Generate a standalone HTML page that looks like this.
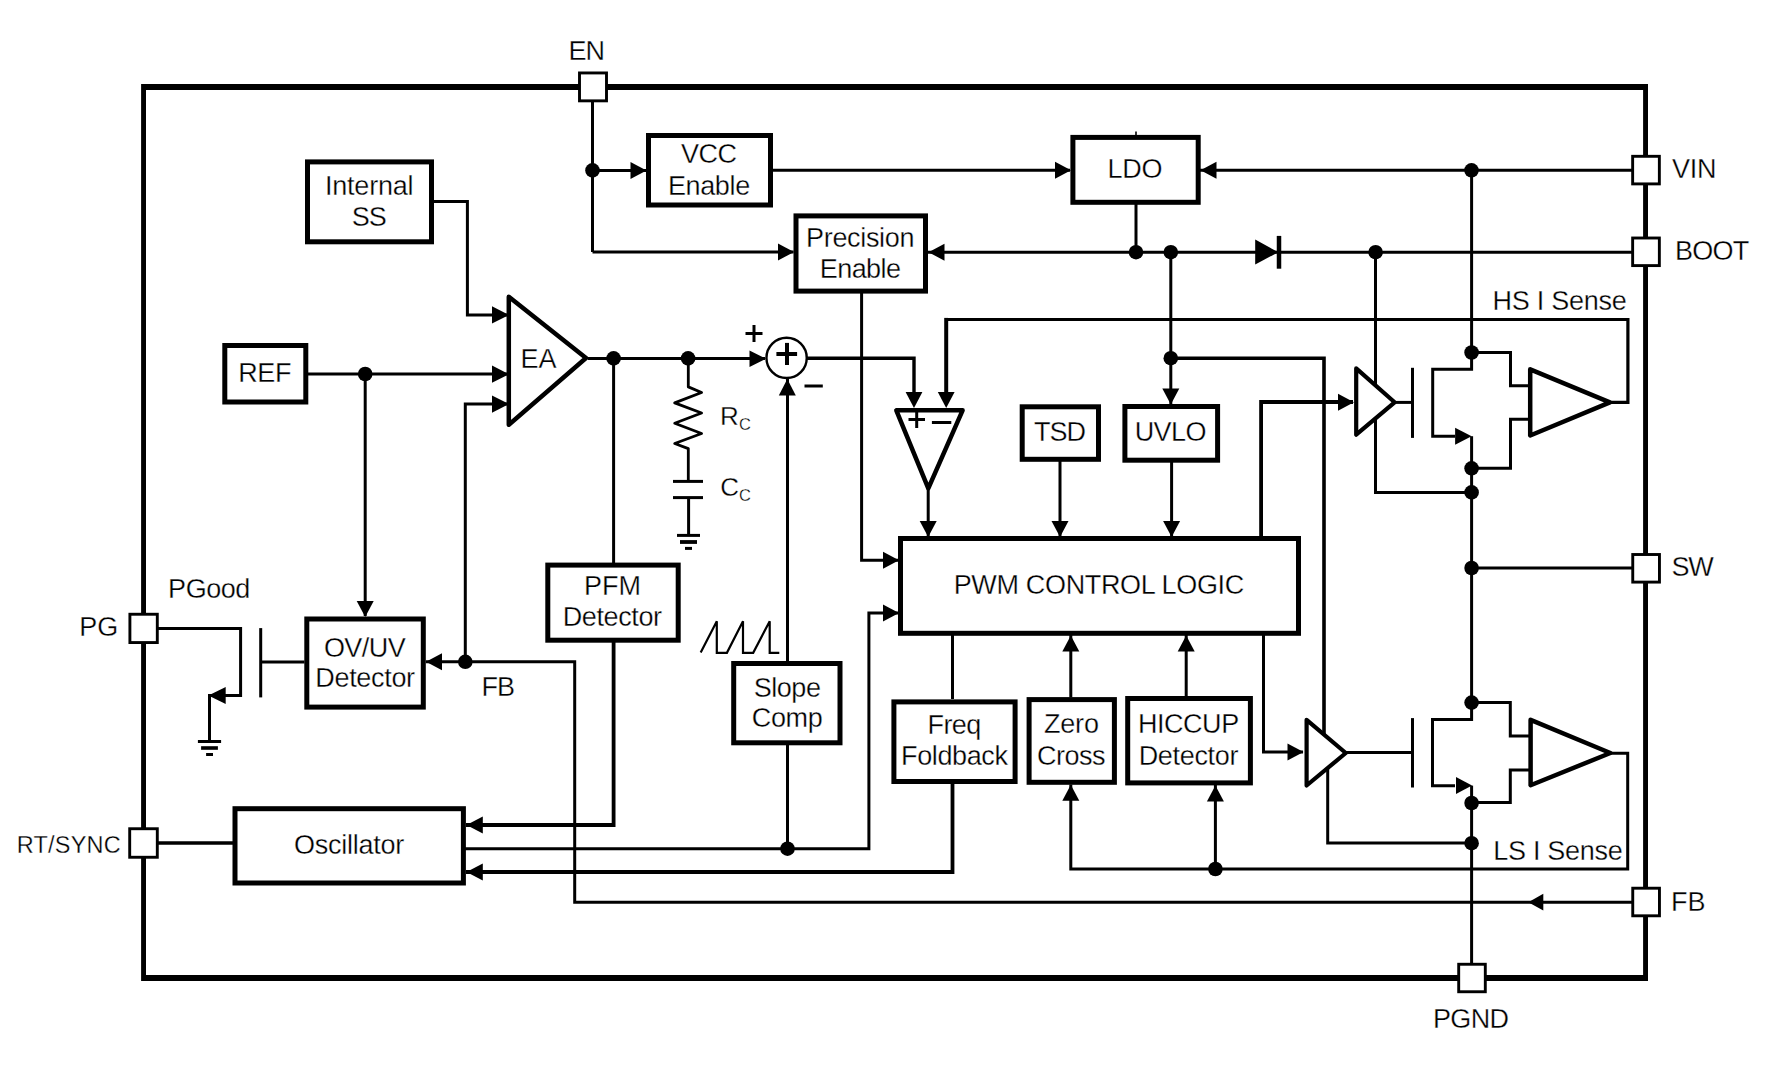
<!DOCTYPE html>
<html><head><meta charset="utf-8"><title>Block Diagram</title>
<style>
html,body{margin:0;padding:0;background:#fff;}
body{width:1774px;height:1068px;overflow:hidden;font-family:"Liberation Sans", sans-serif;}
svg{display:block;}
</style></head><body>
<svg width="1774" height="1068" viewBox="0 0 1774 1068" font-family="'Liberation Sans', sans-serif" fill="#000">
<path d="M141.1 84 H1648 V981 H141.1 Z M146 89.9 V975.1 H1643.1 V89.9 Z" fill="#000" fill-rule="evenodd"/>
<line x1="592.5" y1="100" x2="592.5" y2="252" stroke="#000" stroke-width="3" stroke-linecap="butt"/>
<path d="M592.5 252 L793.5 252" fill="none" stroke="#000" stroke-width="3" stroke-linejoin="miter"/>
<path d="M794 252 L778 243.5 L778 260.5 Z" fill="#000"/>
<line x1="592.5" y1="170.4" x2="646" y2="170.4" stroke="#000" stroke-width="3" stroke-linecap="butt"/>
<path d="M646.5 170.4 L630.5 161.9 L630.5 178.9 Z" fill="#000"/>
<circle cx="592.5" cy="170.4" r="7.3" fill="#000"/>
<rect x="648.5" y="135.5" width="122" height="69.5" fill="none" stroke="#000" stroke-width="5"/>
<rect x="796" y="215.9" width="129.5" height="75.2" fill="none" stroke="#000" stroke-width="5"/>
<line x1="773" y1="170.3" x2="1070" y2="170.3" stroke="#000" stroke-width="3" stroke-linecap="butt"/>
<path d="M1071 170.3 L1055 161.8 L1055 178.8 Z" fill="#000"/>
<rect x="1072.9" y="137.4" width="125.3" height="64.9" fill="none" stroke="#000" stroke-width="5"/>
<line x1="1136" y1="131.5" x2="1136" y2="136" stroke="#000" stroke-width="1.6" stroke-linecap="butt"/>
<line x1="1200" y1="170.3" x2="1632" y2="170.3" stroke="#000" stroke-width="3" stroke-linecap="butt"/>
<path d="M1200.5 170.3 L1216.5 161.8 L1216.5 178.8 Z" fill="#000"/>
<circle cx="1471.5" cy="170.3" r="7.3" fill="#000"/>
<line x1="1136" y1="204" x2="1136" y2="252" stroke="#000" stroke-width="3" stroke-linecap="butt"/>
<line x1="928" y1="252.2" x2="1632" y2="252.2" stroke="#000" stroke-width="3" stroke-linecap="butt"/>
<path d="M928.5 252.2 L944.5 243.7 L944.5 260.7 Z" fill="#000"/>
<circle cx="1136" cy="252.2" r="7.3" fill="#000"/>
<circle cx="1170.8" cy="252.2" r="7.3" fill="#000"/>
<circle cx="1375.6" cy="252.2" r="7.3" fill="#000"/>
<path d="M1255.2 239.6 L1278.4 252.2 L1255.2 264.6 Z" fill="#000"/>
<line x1="1279" y1="235.9" x2="1279" y2="268.7" stroke="#000" stroke-width="4.5" stroke-linecap="butt"/>
<line x1="1170.8" y1="252" x2="1170.8" y2="404" stroke="#000" stroke-width="3" stroke-linecap="butt"/>
<path d="M1170.8 404.5 L1162.3 388.5 L1179.3 388.5 Z" fill="#000"/>
<circle cx="1170.8" cy="358.2" r="7.3" fill="#000"/>
<path d="M1170.8 358.2 L1324 358.2 L1324 734.5" fill="none" stroke="#000" stroke-width="3.6" stroke-linejoin="miter"/>
<path d="M1611 402.4 L1627.9 402.4 L1627.9 319.5 L946.2 319.5" fill="none" stroke="#000" stroke-width="3.2" stroke-linejoin="miter"/>
<line x1="946.2" y1="317.9" x2="946.2" y2="400" stroke="#000" stroke-width="4" stroke-linecap="butt"/>
<path d="M946.2 408 L937.8 392 L954.6 392 Z" fill="#000"/>
<rect x="307.5" y="161.9" width="124" height="79.9" fill="none" stroke="#000" stroke-width="5"/>
<path d="M434 201.5 L467.4 201.5 L467.4 314.9 L507 314.9" fill="none" stroke="#000" stroke-width="3" stroke-linejoin="miter"/>
<path d="M509 314.9 L492 306.3 L492 323.5 Z" fill="#000"/>
<rect x="224.8" y="345.5" width="81" height="56.5" fill="none" stroke="#000" stroke-width="5"/>
<line x1="308" y1="374.1" x2="507" y2="374.1" stroke="#000" stroke-width="3" stroke-linecap="butt"/>
<path d="M509 374.2 L492 365.6 L492 382.8 Z" fill="#000"/>
<circle cx="365.2" cy="374" r="7.3" fill="#000"/>
<line x1="365.2" y1="374" x2="365.2" y2="616" stroke="#000" stroke-width="3" stroke-linecap="butt"/>
<path d="M365.2 617 L356.7 601 L373.7 601 Z" fill="#000"/>
<path d="M508.8 296.8 L586 358 L508.8 424.7 Z" fill="none" stroke="#000" stroke-width="4.5" stroke-linejoin="round"/>
<path d="M465.3 661.8 L465.3 404.1 L507 404.1" fill="none" stroke="#000" stroke-width="3" stroke-linejoin="miter"/>
<path d="M509 404.1 L492 395.5 L492 412.7 Z" fill="#000"/>
<line x1="588" y1="358.4" x2="765" y2="358.4" stroke="#000" stroke-width="3" stroke-linecap="butt"/>
<path d="M766 358.7 L749.5 350.4 L749.5 367 Z" fill="#000"/>
<circle cx="613.6" cy="358.4" r="7.3" fill="#000"/>
<circle cx="688.1" cy="358.4" r="7.3" fill="#000"/>
<line x1="613.6" y1="358.2" x2="613.6" y2="563" stroke="#000" stroke-width="3" stroke-linecap="butt"/>
<path d="M688.3 358.2 L688.3 386.9 L701.6 392.5 L674.7 402.9 L701.6 413 L674.7 423.2 L701.6 433.5 L674.7 443.5 L688.3 448.6 L688.3 481" fill="none" stroke="#000" stroke-width="2.8" stroke-linejoin="round"/>
<line x1="673" y1="481.4" x2="703" y2="481.4" stroke="#000" stroke-width="3" stroke-linecap="butt"/>
<line x1="673" y1="497.6" x2="703" y2="497.6" stroke="#000" stroke-width="3" stroke-linecap="butt"/>
<line x1="688.6" y1="497.6" x2="688.6" y2="535" stroke="#000" stroke-width="3" stroke-linecap="butt"/>
<line x1="677" y1="535.4" x2="700" y2="535.4" stroke="#000" stroke-width="3" stroke-linecap="butt"/>
<line x1="680" y1="542" x2="697" y2="542" stroke="#000" stroke-width="3.8" stroke-linecap="butt"/>
<line x1="685" y1="548.4" x2="692" y2="548.4" stroke="#000" stroke-width="3" stroke-linecap="butt"/>
<circle cx="786.6" cy="357.9" r="20.15" fill="#fff" stroke="#000" stroke-width="2.4"/>
<line x1="776.4" y1="354" x2="797.1" y2="354" stroke="#000" stroke-width="4" stroke-linecap="butt"/>
<line x1="787" y1="342.9" x2="787" y2="365" stroke="#000" stroke-width="4" stroke-linecap="butt"/>
<line x1="745.5" y1="333.5" x2="762.5" y2="333.5" stroke="#000" stroke-width="3" stroke-linecap="butt"/>
<line x1="754" y1="325" x2="754" y2="342" stroke="#000" stroke-width="3" stroke-linecap="butt"/>
<line x1="804.5" y1="386" x2="822.8" y2="386" stroke="#000" stroke-width="3" stroke-linecap="butt"/>
<line x1="787.5" y1="379" x2="787.5" y2="662" stroke="#000" stroke-width="3" stroke-linecap="butt"/>
<path d="M787.3 379.1 L778.8 395.6 L795.8 395.6 Z" fill="#000"/>
<path d="M806.5 358.2 L914 358.2 L914 400" fill="none" stroke="#000" stroke-width="3.4" stroke-linejoin="miter"/>
<path d="M914 408 L905.6 392 L922.4 392 Z" fill="#000"/>
<path d="M896.3 410.3 L962.6 410.3 L928.3 488.4 Z" fill="none" stroke="#000" stroke-width="4.5" stroke-linejoin="round"/>
<line x1="908.5" y1="419.5" x2="925" y2="419.5" stroke="#000" stroke-width="3" stroke-linecap="butt"/>
<line x1="916.7" y1="411.5" x2="916.7" y2="428" stroke="#000" stroke-width="3" stroke-linecap="butt"/>
<line x1="931.9" y1="422.5" x2="951.3" y2="422.5" stroke="#000" stroke-width="3" stroke-linecap="butt"/>
<line x1="928.2" y1="487" x2="928.2" y2="536" stroke="#000" stroke-width="3" stroke-linecap="butt"/>
<path d="M928.2 537 L919.7 521 L936.7 521 Z" fill="#000"/>
<path d="M861.6 293 L861.6 560.3 L898 560.3" fill="none" stroke="#000" stroke-width="3" stroke-linejoin="miter"/>
<path d="M899 560.3 L883 551.8 L883 568.8 Z" fill="#000"/>
<rect x="1022.2" y="406.8" width="76.3" height="52.5" fill="none" stroke="#000" stroke-width="5"/>
<rect x="1124.9" y="406.5" width="92.7" height="53.7" fill="none" stroke="#000" stroke-width="5"/>
<line x1="1060" y1="461" x2="1060" y2="536" stroke="#000" stroke-width="3" stroke-linecap="butt"/>
<path d="M1060 537 L1051.5 521 L1068.5 521 Z" fill="#000"/>
<line x1="1171.6" y1="461" x2="1171.6" y2="536" stroke="#000" stroke-width="3" stroke-linecap="butt"/>
<path d="M1171.6 537 L1163.1 521 L1180.1 521 Z" fill="#000"/>
<rect x="900.5" y="538.5" width="398" height="94.8" fill="none" stroke="#000" stroke-width="5"/>
<path d="M1261.1 537 L1261.1 402 L1353 402" fill="none" stroke="#000" stroke-width="3.8" stroke-linejoin="miter"/>
<path d="M1354 402.3 L1338 393.8 L1338 410.8 Z" fill="#000"/>
<path d="M1263.5 634 L1263.5 751.9 L1303 751.9" fill="none" stroke="#000" stroke-width="3" stroke-linejoin="miter"/>
<path d="M1303.5 752 L1287.5 743.5 L1287.5 760.5 Z" fill="#000"/>
<rect x="893.9" y="701.9" width="121.2" height="79.6" fill="none" stroke="#000" stroke-width="5"/>
<line x1="952.5" y1="634" x2="952.5" y2="699" stroke="#000" stroke-width="3" stroke-linecap="butt"/>
<path d="M952.5 783 L952.5 872 L466 872" fill="none" stroke="#000" stroke-width="3.8" stroke-linejoin="miter"/>
<path d="M466.5 872 L482.8 863.5 L482.8 880.5 Z" fill="#000"/>
<rect x="1029.1" y="699.6" width="85.3" height="82.7" fill="none" stroke="#000" stroke-width="5"/>
<line x1="1070.8" y1="697.5" x2="1070.8" y2="635" stroke="#000" stroke-width="3" stroke-linecap="butt"/>
<path d="M1070.8 635.6 L1062.3 651.6 L1079.3 651.6 Z" fill="#000"/>
<path d="M1070.8 784.5 L1070.8 869 L1627.7 869 L1627.7 753.3 L1611 753.3" fill="none" stroke="#000" stroke-width="3" stroke-linejoin="miter"/>
<path d="M1070.8 784.8 L1062.3 800.8 L1079.3 800.8 Z" fill="#000"/>
<rect x="1127.7" y="698.5" width="122.7" height="84.4" fill="none" stroke="#000" stroke-width="5"/>
<line x1="1186.2" y1="697" x2="1186.2" y2="635" stroke="#000" stroke-width="3" stroke-linecap="butt"/>
<path d="M1186.2 635.6 L1177.7 651.6 L1194.7 651.6 Z" fill="#000"/>
<line x1="1215.4" y1="869" x2="1215.4" y2="785" stroke="#000" stroke-width="3" stroke-linecap="butt"/>
<path d="M1215.4 785.4 L1206.9 801.4 L1223.9 801.4 Z" fill="#000"/>
<circle cx="1215.4" cy="869" r="7.3" fill="#000"/>
<path d="M1356.2 368.4 L1394.6 402.3 L1356.2 434.7 Z" fill="none" stroke="#000" stroke-width="4.2" stroke-linejoin="round"/>
<line x1="1375.5" y1="252" x2="1375.5" y2="385" stroke="#000" stroke-width="3" stroke-linecap="butt"/>
<path d="M1375.5 418 L1375.5 492.4 L1471.6 492.4" fill="none" stroke="#000" stroke-width="3" stroke-linejoin="miter"/>
<line x1="1394" y1="402.4" x2="1412.4" y2="402.4" stroke="#000" stroke-width="3" stroke-linecap="butt"/>
<line x1="1412.5" y1="367.8" x2="1412.5" y2="437.9" stroke="#000" stroke-width="3" stroke-linecap="butt"/>
<path d="M1471.6 170 L1471.6 352.5" fill="none" stroke="#000" stroke-width="3" stroke-linejoin="miter"/>
<path d="M1471.6 352.5 L1471.6 369.2 L1432.7 369.2 L1432.7 436.2 L1455 436.2" fill="none" stroke="#000" stroke-width="3" stroke-linejoin="miter"/>
<path d="M1471.6 436.2 L1455.1 427.7 L1455.1 444.7 Z" fill="#000"/>
<line x1="1471.6" y1="436.2" x2="1471.6" y2="468.3" stroke="#000" stroke-width="3" stroke-linecap="butt"/>
<path d="M1471.6 352.5 L1510.5 352.5 L1510.5 385.8 L1530 385.8" fill="none" stroke="#000" stroke-width="3" stroke-linejoin="miter"/>
<path d="M1471.6 468.3 L1510.5 468.3 L1510.5 419.3 L1530 419.3" fill="none" stroke="#000" stroke-width="3" stroke-linejoin="miter"/>
<path d="M1530.2 369.3 L1609.9 402.3 L1530.2 435.5 Z" fill="none" stroke="#000" stroke-width="4.5" stroke-linejoin="round"/>
<circle cx="1471.6" cy="352.5" r="7.3" fill="#000"/>
<circle cx="1471.6" cy="468.3" r="7.3" fill="#000"/>
<circle cx="1471.6" cy="492.4" r="7.3" fill="#000"/>
<line x1="1471.6" y1="468.3" x2="1471.6" y2="701.6" stroke="#000" stroke-width="3" stroke-linecap="butt"/>
<line x1="1471.6" y1="568" x2="1632" y2="568" stroke="#000" stroke-width="3" stroke-linecap="butt"/>
<circle cx="1471.6" cy="568" r="7.3" fill="#000"/>
<path d="M1306.6 719.8 L1345.8 753 L1306.6 785.5 Z" fill="none" stroke="#000" stroke-width="4.2" stroke-linejoin="round"/>
<path d="M1327.7 768 L1327.7 843 L1471.6 843" fill="none" stroke="#000" stroke-width="3" stroke-linejoin="miter"/>
<line x1="1345" y1="752.4" x2="1412.5" y2="752.4" stroke="#000" stroke-width="3" stroke-linecap="butt"/>
<line x1="1412.5" y1="718.1" x2="1412.5" y2="787.5" stroke="#000" stroke-width="3" stroke-linecap="butt"/>
<path d="M1471.6 702.6 L1471.6 719.4 L1432.5 719.4 L1432.5 785.8 L1455 785.8" fill="none" stroke="#000" stroke-width="3" stroke-linejoin="miter"/>
<path d="M1472 785.6 L1456 777.1 L1456 794.1 Z" fill="#000"/>
<line x1="1471.6" y1="785.6" x2="1471.6" y2="964" stroke="#000" stroke-width="3" stroke-linecap="butt"/>
<path d="M1471.6 702.4 L1510.3 702.4 L1510.3 736.1 L1530 736.1" fill="none" stroke="#000" stroke-width="3" stroke-linejoin="miter"/>
<path d="M1471.6 802.5 L1510.3 802.5 L1510.3 769.9 L1530 769.9" fill="none" stroke="#000" stroke-width="3" stroke-linejoin="miter"/>
<path d="M1530.6 719.85 L1610.35 753 L1530.6 785.25 Z" fill="none" stroke="#000" stroke-width="4.5" stroke-linejoin="round"/>
<circle cx="1471.6" cy="702.6" r="7.3" fill="#000"/>
<circle cx="1471.6" cy="803" r="7.3" fill="#000"/>
<circle cx="1471.6" cy="843.2" r="7.3" fill="#000"/>
<path d="M1632 902.2 L574.7 902.2 L574.7 661.8 L425.8 661.8" fill="none" stroke="#000" stroke-width="3" stroke-linejoin="miter"/>
<path d="M1528.3 902.2 L1543.3 893.8 L1543.3 910.6 Z" fill="#000"/>
<path d="M426 661.7 L442 653.2 L442 670.2 Z" fill="#000"/>
<circle cx="465.3" cy="661.8" r="7.3" fill="#000"/>
<rect x="306.8" y="619" width="116.5" height="88.1" fill="none" stroke="#000" stroke-width="5"/>
<path d="M158 628.5 L240.6 628.5 L240.6 695.6 L209.5 695.6 L209.5 741" fill="none" stroke="#000" stroke-width="3" stroke-linejoin="miter"/>
<path d="M208.4 695.4 L225.7 686.9 L225.7 703.9 Z" fill="#000"/>
<line x1="260.7" y1="628.1" x2="260.7" y2="697.4" stroke="#000" stroke-width="3" stroke-linecap="butt"/>
<line x1="260.7" y1="662" x2="304.5" y2="662" stroke="#000" stroke-width="3" stroke-linecap="butt"/>
<line x1="197.9" y1="741.5" x2="221.1" y2="741.5" stroke="#000" stroke-width="3" stroke-linecap="butt"/>
<line x1="201.1" y1="748" x2="217.9" y2="748" stroke="#000" stroke-width="3.6" stroke-linecap="butt"/>
<line x1="206.1" y1="754.5" x2="213" y2="754.5" stroke="#000" stroke-width="3" stroke-linecap="butt"/>
<rect x="547.8" y="565.1" width="130.4" height="75.1" fill="none" stroke="#000" stroke-width="5"/>
<path d="M613.6 642 L613.6 825 L466 825" fill="none" stroke="#000" stroke-width="3.8" stroke-linejoin="miter"/>
<path d="M466.5 825 L482.8 816.5 L482.8 833.5 Z" fill="#000"/>
<rect x="733.7" y="663.5" width="106.3" height="79.3" fill="none" stroke="#000" stroke-width="5"/>
<line x1="787.5" y1="745" x2="787.5" y2="848.7" stroke="#000" stroke-width="3" stroke-linecap="butt"/>
<circle cx="787.5" cy="848.7" r="7.3" fill="#000"/>
<path d="M700.7 652.5 L716.8 621.2 L716.8 652.8 L726.9 652.8 L743 621.2 L743 652.8 L753.2 652.8 L769.7 621.2 L769.7 652.8 L779.3 652.8" fill="none" stroke="#000" stroke-width="2.2" stroke-linejoin="miter"/>
<rect x="235" y="808.7" width="228.4" height="74.3" fill="none" stroke="#000" stroke-width="5"/>
<path d="M465 848.7 L868.9 848.7 L868.9 613.1 L898 613.1" fill="none" stroke="#000" stroke-width="3" stroke-linejoin="miter"/>
<path d="M899 613.1 L883 604.6 L883 621.6 Z" fill="#000"/>
<line x1="158" y1="843" x2="233" y2="843" stroke="#000" stroke-width="3.6" stroke-linecap="butt"/>
<rect x="579.5" y="72.95" width="27" height="27.9" fill="#fff" stroke="#000" stroke-width="2.9"/>
<rect x="1632.65" y="156.31" width="26.7" height="27.59" fill="#fff" stroke="#000" stroke-width="2.9"/>
<rect x="1632.65" y="238.01" width="26.7" height="27.59" fill="#fff" stroke="#000" stroke-width="2.9"/>
<rect x="1632.75" y="554.51" width="26.7" height="27.59" fill="#fff" stroke="#000" stroke-width="2.9"/>
<rect x="1632.75" y="888.21" width="26.7" height="27.59" fill="#fff" stroke="#000" stroke-width="2.9"/>
<rect x="1458.7" y="964.26" width="26.6" height="27.49" fill="#fff" stroke="#000" stroke-width="2.9"/>
<rect x="129.9" y="614.25" width="27.4" height="28.31" fill="#fff" stroke="#000" stroke-width="2.9"/>
<rect x="129.7" y="828.74" width="27.6" height="28.52" fill="#fff" stroke="#000" stroke-width="2.9"/>
<g stroke="#fff" stroke-width="0.3">
<text x="568.5" y="60.33" font-size="27" letter-spacing="-0.9">EN</text>
<text x="680.9" y="163.13" font-size="27" letter-spacing="-0.45">VCC</text>
<text x="667.9" y="194.83" font-size="27" letter-spacing="-0.36">Enable</text>
<text x="806.1" y="246.63" font-size="27" letter-spacing="-0.34">Precision</text>
<text x="819.7" y="277.83" font-size="27" letter-spacing="-0.54">Enable</text>
<text x="1107.5" y="178.33" font-size="27" letter-spacing="-0.23">LDO</text>
<text x="1671.9" y="178.13" font-size="27" letter-spacing="-0.23">VIN</text>
<text x="1674.9" y="260.33" font-size="27" letter-spacing="-0.75">BOOT</text>
<text x="1492.5" y="310.33" font-size="27" letter-spacing="-0.25">HS I Sense</text>
<text x="324.9" y="194.83" font-size="27" letter-spacing="-0.19">Internal</text>
<text x="351.7" y="225.73" font-size="27" letter-spacing="-0.9">SS</text>
<text x="238.3" y="381.93" font-size="27" letter-spacing="-0.45">REF</text>
<text x="520.5" y="367.53" font-size="27">EA</text>
<text x="1033.9" y="441.13" font-size="27" letter-spacing="-0.9">TSD</text>
<text x="1134.7" y="441.13" font-size="27" letter-spacing="-0.6">UVLO</text>
<text x="953.7" y="594.13" font-size="27" letter-spacing="-0.34">PWM CONTROL LOGIC</text>
<text x="168.1" y="598.43" font-size="27" letter-spacing="-0.45">PGood</text>
<text x="79.3" y="635.93" font-size="27">PG</text>
<text x="323.9" y="656.53" font-size="27" letter-spacing="-0.56">OV/UV</text>
<text x="315.3" y="687.43" font-size="27" letter-spacing="-0.32">Detector</text>
<text x="481.5" y="696.33" font-size="27" letter-spacing="-0.9">FB</text>
<text x="584.1" y="594.93" font-size="27">PFM</text>
<text x="562.7" y="626.03" font-size="27" letter-spacing="-0.39">Detector</text>
<text x="753.7" y="696.63" font-size="27" letter-spacing="-0.45">Slope</text>
<text x="751.7" y="727.33" font-size="27" letter-spacing="-0.3">Comp</text>
<text x="927.5" y="733.93" font-size="27" letter-spacing="-0.6">Freq</text>
<text x="901.1" y="765.23" font-size="27" letter-spacing="-0.39">Foldback</text>
<text x="1043.9" y="733.13" font-size="27" letter-spacing="-0.15">Zero</text>
<text x="1036.9" y="765.33" font-size="27" letter-spacing="-0.45">Cross</text>
<text x="1137.9" y="733.13" font-size="27" letter-spacing="-0.45">HICCUP</text>
<text x="1138.7" y="764.83" font-size="27" letter-spacing="-0.32">Detector</text>
<text x="293.9" y="854.23" font-size="27" letter-spacing="-0.25">Oscillator</text>
<text x="16.7" y="853.03" font-size="23.5" letter-spacing="0.23">RT/SYNC</text>
<text x="1671.5" y="575.73" font-size="27" letter-spacing="-1.35">SW</text>
<text x="1670.9" y="910.73" font-size="27">FB</text>
<text x="1432.9" y="1027.73" font-size="27" letter-spacing="-0.6">PGND</text>
<text x="1493.3" y="860.13" font-size="27" letter-spacing="-0.3">LS I Sense</text>
<text x="720.1" y="424.82" font-size="26">R</text>
<text x="739.1" y="429.81" font-size="16.5">C</text>
<text x="720.3" y="495.62" font-size="26">C</text>
<text x="739.1" y="501.21" font-size="16.5">C</text>
</g>
</svg>
</body></html>
